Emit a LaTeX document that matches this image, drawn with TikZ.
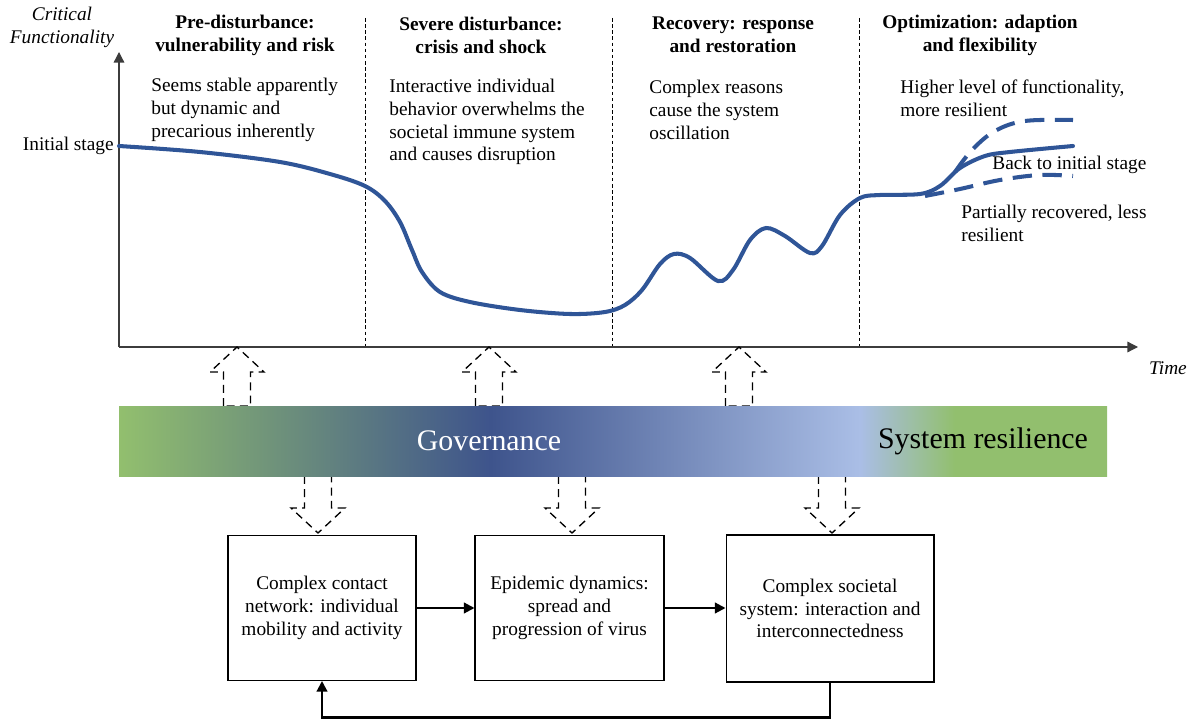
\documentclass[tikz,border=0pt]{standalone}
\usepackage{fontspec}
\setmainfont{Liberation Serif}
\usetikzlibrary{arrows.meta,positioning}

\definecolor{curveblue}{RGB}{47,85,151}
\definecolor{barGreen}{RGB}{146,191,110}
\definecolor{barDark}{RGB}{62,84,140}
\definecolor{barLight}{RGB}{170,190,230}
\definecolor{axisgray}{RGB}{60,60,60}
\pgfdeclarehorizontalshading{governance}{100bp}{color(0bp)=(barGreen);
  color(25bp)=(barGreen); color(43.8bp)=(barDark); color(62.5bp)=(barLight);
  color(67.3bp)=(barGreen); color(100bp)=(barGreen)}

\begin{document}
\begin{tikzpicture}[x=0.02cm,y=-0.02cm,
    every node/.style={font=\fontsize{11}{13}\selectfont, inner sep=0pt},
    phase/.style={font=\fontsize{11}{13}\selectfont\bfseries, align=center},
    note/.style={align=left, anchor=west},
    axislabel/.style={font=\fontsize{11}{13}\selectfont\itshape, align=center},
    axis/.style={draw=axisgray, line width=0.7pt, -{Triangle[length=6pt,width=6pt]}},
    phaseline/.style={draw=black, line width=0.5pt, dash pattern=on 2pt off 1.5pt},
    curve/.style={draw=curveblue, line width=2.3pt, line cap=round},
    altcurve/.style={draw=curveblue, line width=2.3pt, dash pattern=on 11pt off 6pt},
    hollow/.style={draw=black, line width=0.75pt, dash pattern=on 4.5pt off 3pt},
    block/.style={draw, line width=0.6pt, align=center, minimum height=2.9cm},
    flow/.style={line width=1.2pt, -{Triangle[length=6pt,width=6pt]}}
  ]
  \useasboundingbox (0,0) rectangle (1193,719);

  % Phase separators
  \foreach \x in {365,612,859}
    \draw[phaseline] (\x,18) -- (\x,347);

  % Axes
  \coordinate (origin) at (119,347);
  \coordinate (ytop) at (119,52);
  \coordinate (xend) at (1138,347);
  \draw[axis] (origin) -- (ytop);
  \draw[axis] (origin) -- (xend);
  \node[axislabel] (ylabel) at (62,27) {Critical\\Functionality};
  \node[axislabel] (xlabel) at (1168,368) {Time};
  \node[anchor=east] (initial) at (114,146) {Initial stage};

  % Phase titles
  \node[phase] (pre) at (245,35) {Pre-disturbance:\\vulnerability and risk};
  \node[phase] (severe) at (481,35) {Severe disturbance:\\crisis and shock};
  \node[phase] (recovery) at (733,35) {Recovery: response\\and restoration};
  \node[phase] (optim) at (980,35) {Optimization: adaption\\and flexibility};

  % Phase descriptions
  \node[note] (predesc) at (151,110) {Seems stable apparently\\but dynamic and\\precarious inherently};
  \node[note] (severedesc) at (389,122) {Interactive individual\\behavior overwhelms the\\societal immune system\\and causes disruption};
  \node[note] (recdesc) at (649,110) {Complex reasons\\cause the system\\oscillation};
  \node[note] (optdesc) at (900,98.5) {Higher level of functionality,\\more resilient};
  \node[note] (back) at (992,165) {Back to initial stage};
  \node[note] (partial) at (961,223.5) {Partially recovered, less\\resilient};

  % Functionality curve
  \draw[curve] plot[smooth, tension=0.55] coordinates {
    (119,146) (200,152) (280,162) (330,174) (365,186) (385,201) (400,222)
    (412,250) (422,272) (440,292) (470,302) (520,310) (570,314) (605,312)
    (625,305) (642,290) (660,264) (674,254) (690,258) (718,281) (733,270)
    (750,240) (766,228) (785,236) (810,253) (822,246) (840,215) (860,198)
    (880,195) (920,194) (940,186) (960,168) (985,156) (1010,152) (1073,146)};
  \draw[altcurve] plot[smooth, tension=0.6] coordinates {
    (955,172) (972,150) (995,131) (1025,121) (1073,120)};
  \draw[altcurve] plot[smooth, tension=0.6] coordinates {
    (925,196) (960,189) (1000,180) (1040,175) (1073,176)};

  % Hollow arrows between curve, bar and blocks
  \foreach \c in {237,489,739}
    \draw[hollow] (\c-13.5,406) -- (\c-13.5,372) -- (\c-27,372) -- (\c,347)
      -- (\c+27,372) -- (\c+13.5,372) -- (\c+13.5,406) -- cycle;
  \foreach \c in {318,572,832}
    \draw[hollow] (\c-13.5,476) -- (\c-13.5,508) -- (\c-27,508) -- (\c,533)
      -- (\c+27,508) -- (\c+13.5,508) -- (\c+13.5,476) -- cycle;

  % Governance / resilience bar
  \shade[shading=governance] (119,406) rectangle (1107,476);
  \node[font=\fontsize{17}{20}\selectfont, text=white] (gov) at (489,441) {Governance};
  \node[font=\fontsize{17}{20}\selectfont] (resil) at (983,441) {System resilience};

  % Blocks
  \node[block, minimum width=3.76cm] (contact) at (322,608)
    {Complex contact\\network: individual\\mobility and activity};
  \node[block, minimum width=3.78cm] (epidemic) at (569.5,608)
    {Epidemic dynamics:\\spread and\\progression of virus};
  \node[block, minimum width=4.16cm, minimum height=2.94cm] (societal) at (830,608.5)
    {Complex societal\\system: interaction and\\interconnectedness};

  \draw[flow] (contact.east) -- (epidemic.west);
  \draw[flow] (epidemic.east) -- (epidemic.east -| societal.west);
  \draw[flow] (societal.south) -- ++(0,35) -| (contact.south);
\end{tikzpicture}
\end{document}
